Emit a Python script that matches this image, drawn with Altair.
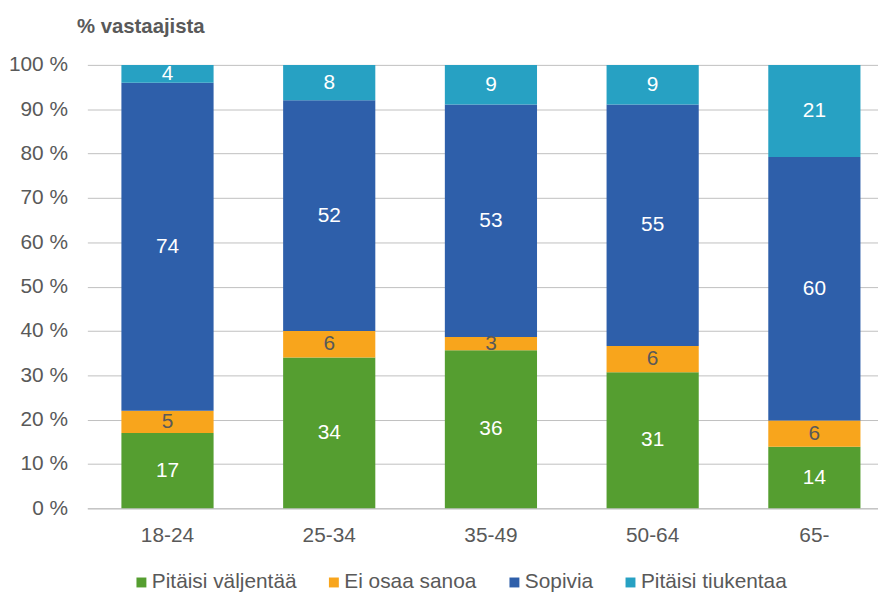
import altair as alt
import pandas as pd

ages = ["18-24", "25-34", "35-49", "50-64", "65-"]
series = ["Pitäisi väljentää", "Ei osaa sanoa", "Sopivia", "Pitäisi tiukentaa"]
colors = ["#559E30", "#F8A51C", "#2E5FAA", "#27A1C3"]
label_colors = ["#FFFFFF", "#595959", "#FFFFFF", "#FFFFFF"]

valjentaa = [17, 34, 36, 31, 14]
ei_osaa = [5, 6, 3, 6, 6]
sopivia = [74, 52, 53, 55, 60]
tiukentaa = [4, 8, 9, 9, 21]

y_ticks = [0, 0.1, 0.2, 0.3, 0.4, 0.5, 0.6, 0.7, 0.8, 0.9, 1.0]

rows = []
for si, (name, vals) in enumerate(zip(series, [valjentaa, ei_osaa, sopivia, tiukentaa])):
    for a, v in zip(ages, vals):
        rows.append({"age": a, "series": name, "idx": si, "value": v})
df = pd.DataFrame(rows)

FONT = "Liberation Sans"
GRAY = "#595959"
FS = 21

base = alt.Chart(df).transform_stack(
    stack="value",
    groupby=["age"],
    as_=["y0", "y1"],
    offset="normalize",
    sort=[alt.SortField("idx", order="ascending")],
).transform_calculate(mid="(datum.y0 + datum.y1) / 2")

xenc = alt.X(
    "age:N",
    sort=ages,
    title=None,
    scale=alt.Scale(paddingInner=0.43, paddingOuter=0.1595, align=0.66),
    axis=alt.Axis(
        labelAngle=0,
        labelFontSize=FS,
        labelFont=FONT,
        labelColor=GRAY,
        ticks=False,
        labelPadding=16,
        domain=True,
        domainColor="#BFBFBF",
        domainWidth=1,
        grid=False,
    ),
)

yscale = alt.Scale(domain=[0, 1], nice=False)

bars = base.mark_bar().encode(
    x=xenc,
    y=alt.Y(
        "y0:Q",
        scale=yscale,
        title="% vastaajista",
        axis=alt.Axis(
            values=y_ticks,
            labelExpr="round(datum.value * 100) + ' %'",
            labelFontSize=FS,
            labelFont=FONT,
            labelColor=GRAY,
            labelPadding=20,
            ticks=False,
            domain=False,
            grid=True,
            gridColor="#BFBFBF",
            gridWidth=1,
            titleAngle=0,
            titleAlign="left",
            titleBaseline="alphabetic",
            titleX=-11,
            titleY=-33,
            titleFontSize=20.5,
            titleFont=FONT,
            titleFontWeight="bold",
            titleColor=GRAY,
        ),
    ),
    y2="y1:Q",
    color=alt.Color(
        "series:N",
        scale=alt.Scale(domain=series, range=colors),
        legend=alt.Legend(
            title=None,
            orient="none",
            direction="horizontal",
            legendX=44,
            legendY=511,
            padding=0,
            symbolType="square",
            symbolSize=100,
            symbolStrokeWidth=0,
            labelFontSize=FS,
            labelFont=FONT,
            labelColor=GRAY,
            labelOffset=0,
            columnPadding=27,
        ),
    ),
)

texts = base.mark_text(fontSize=FS, font=FONT, baseline="middle").encode(
    x=alt.X("age:N", sort=ages),
    y=alt.Y("mid:Q", scale=yscale),
    text=alt.Text("value:Q"),
    color=alt.Color("series:N", scale=alt.Scale(domain=series, range=label_colors), legend=None),
)

chart = (
    alt.layer(bars, texts)
    .resolve_scale(color="independent")
    .properties(
        width=797,
        height=447,
        autosize=alt.AutoSizeParams(type="none"),
        padding={"left": 80, "top": 55, "right": 0, "bottom": 82},
        background="white",
    )
    .configure_view(stroke=None)
)

chart.save("out.html", embed_options={"renderer": "svg", "actions": False})
